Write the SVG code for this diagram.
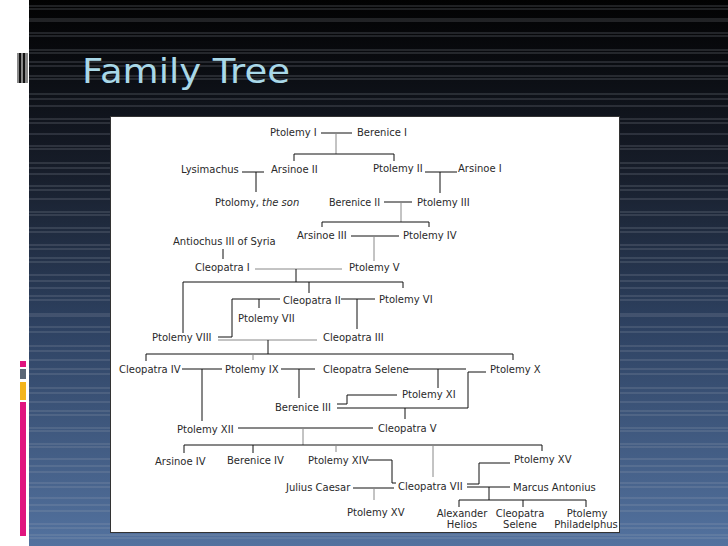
<svg xmlns="http://www.w3.org/2000/svg" width="728" height="546" viewBox="0 0 728 546">
<defs>
<linearGradient id="bg" x1="0" y1="0" x2="0" y2="1">
<stop offset="0" stop-color="#020202"/>
<stop offset="0.3" stop-color="#161c28"/>
<stop offset="0.6" stop-color="#2e4262"/>
<stop offset="1" stop-color="#53729f"/>
</linearGradient>
<style>
.bl{stroke:#aab0bb;stroke-opacity:0.45;stroke-width:0.8}
.k{fill:none;stroke:#111;stroke-width:1}
.g{fill:none;stroke:#888;stroke-width:1}
text.n{font-family:"DejaVu Sans","Liberation Sans",sans-serif;font-size:10px;fill:#2a2a2a}
.m{text-anchor:middle}
</style>
</defs>
<rect x="0" y="0" width="728" height="546" fill="#fff"/>
<rect x="29" y="0" width="699" height="546" fill="url(#bg)"/>
<g id="bglines">
<path class="bl" d="M29,6H728M29,9H728M29,19H728M29,21H728M29,33H728M29,36H728M29,50H728M29,53H728M29,62H728M29,66H728M29,76H728M29,79H728M29,94H728M29,99H728M29,106H728M29,119H728M29,123H728M29,134H728M29,146H728M29,149H728M29,163H728M29,168H728M29,174H728M29,186H728M29,190H728M29,199H728M29,212H728M29,215H728M29,228H728M29,232H728M29,245H728M29,249H728M29,258H728M29,262H728M29,275H728M29,281H728M29,288H728M29,296H728M29,300H728M29,314H728M29,316H728M29,327H728M29,332H728M29,346H728M29,351H728M29,360H728M29,369H728M29,374H728M29,388H728M29,393H728M29,402H728M29,411H728M29,415H728M29,428H728M29,431H728M29,444H728M29,447H728M29,459H728M29,466H728M29,472H728M29,483H728M29,487H728M29,498H728M29,505H728M29,511H728M29,524H728M29,528H728M29,535H728M29,538H728"/>
</g>
<g id="decor">
<rect x="17" y="53" width="11" height="30" fill="#888"/>
<rect x="19" y="53" width="2" height="30" fill="#111"/>
<rect x="23" y="53" width="2" height="30" fill="#111"/>
<rect x="20" y="361" width="6" height="6" fill="#e0157f"/>
<rect x="20" y="369" width="6" height="10" fill="#5a6676"/>
<rect x="20" y="382" width="6" height="18" fill="#f4b51c"/>
<rect x="20" y="402" width="6" height="134" fill="#e0157f"/>
</g>
<text id="title" x="82" y="83" font-family="'DejaVu Sans','Liberation Sans',sans-serif" font-size="33" fill="#a9d8e8" textLength="208" lengthAdjust="spacingAndGlyphs">Family Tree</text>
<rect id="box" x="110.5" y="116.5" width="509" height="416" fill="#fff" stroke="#333" stroke-width="1"/>
<g id="connectors">
<path class="k" d="M321,133H352"/>
<path class="g" d="M336,133V154"/>
<path class="k" d="M294,161V154H394V161"/>
<path class="k" d="M242,172H264M256,172V192"/>
<path class="k" d="M425,172H457M440,172V193"/>
<path class="k" d="M384,202H412"/>
<path class="g" d="M401,202V222"/>
<path class="k" d="M322,227V222H429V227"/>
<path class="k" d="M351,236H399"/>
<path class="g" d="M374,236V261"/>
<path class="k" d="M223,249V259"/>
<path class="g" d="M255,269H342"/>
<path class="k" d="M296,269V282"/>
<path class="k" d="M183,333V282H403V288"/>
<path class="k" d="M309,282V293"/>
<path class="k" d="M341,299H375"/>
<path class="k" d="M280,299H232V337H218"/>
<path class="g" d="M218,340H317"/>
<path class="k" d="M259,299V308"/>
<path class="k" d="M357,299V329"/>
<path class="k" d="M268,340V354"/>
<path class="k" d="M146,361V354H513V360"/>
<path class="g" d="M253,354V360"/>
<path class="k" d="M182,369H222M202,369V421"/>
<path class="k" d="M281,369H315M299,369V398"/>
<path class="k" d="M407,369H466M438,369V388"/>
<path class="k" d="M486,372H468V408H337"/>
<path class="k" d="M337,404H347V395H397"/>
<path class="k" d="M405,408V419"/>
<path class="k" d="M238,428H373"/>
<path class="g" d="M303,428V445"/>
<path class="k" d="M184,453V445H542V451"/>
<path class="k" d="M253,445V453"/>
<path class="g" d="M336,445V452M433,445V477"/>
<path class="k" d="M368,460H392V483H396"/>
<path class="k" d="M353,488H394"/>
<path class="g" d="M374,488V500"/>
<path class="k" d="M467,484H479V463H510M467,487H510M489,487V500"/>
<path class="k" d="M459,507V500H586V507M523,500V507"/>
</g>
<g id="n-ptolemy1"><text class="n" x="270" y="135.5">Ptolemy I</text></g>
<g id="n-berenice1"><text class="n" x="357" y="135.5">Berenice I</text></g>
<g id="n-lysimachus"><text class="n" x="181" y="172.5">Lysimachus</text></g>
<g id="n-arsinoe2"><text class="n" x="271" y="172.5">Arsinoe II</text></g>
<g id="n-ptolemy2"><text class="n" x="373" y="171.5">Ptolemy II</text></g>
<g id="n-arsinoe1"><text class="n" x="458" y="171.5">Arsinoe I</text></g>
<g id="n-ptolomyson"><text class="n" x="215" y="205.5">Ptolomy, <tspan font-style="italic">the son</tspan></text></g>
<g id="n-berenice2"><text class="n" x="329" y="205.5" textLength="51" lengthAdjust="spacingAndGlyphs">Berenice II</text></g>
<g id="n-ptolemy3"><text class="n" x="417" y="205.5">Ptolemy III</text></g>
<g id="n-arsinoe3"><text class="n" x="297" y="238.5">Arsinoe III</text></g>
<g id="n-ptolemy4"><text class="n" x="403" y="238.5">Ptolemy IV</text></g>
<g id="n-antiochus"><text class="n" x="173" y="244.5">Antiochus III of Syria</text></g>
<g id="n-cleopatra1"><text class="n" x="195" y="270.5">Cleopatra I</text></g>
<g id="n-ptolemy5"><text class="n" x="349" y="270.5">Ptolemy V</text></g>
<g id="n-cleopatra2"><text class="n" x="283" y="303.5">Cleopatra II</text></g>
<g id="n-ptolemy6"><text class="n" x="379" y="302.5">Ptolemy VI</text></g>
<g id="n-ptolemy7"><text class="n" x="238" y="321.5">Ptolemy VII</text></g>
<g id="n-ptolemy8"><text class="n" x="152" y="340.5">Ptolemy VIII</text></g>
<g id="n-cleopatra3"><text class="n" x="323" y="340.5">Cleopatra III</text></g>
<g id="n-cleopatra4"><text class="n" x="119" y="372.5">Cleopatra IV</text></g>
<g id="n-ptolemy9"><text class="n" x="225" y="372.5">Ptolemy IX</text></g>
<g id="n-cleoselene"><text class="n" x="323" y="372.5">Cleopatra Selene</text></g>
<g id="n-ptolemy10"><text class="n" x="490" y="372.5">Ptolemy X</text></g>
<g id="n-ptolemy11"><text class="n" x="402" y="397.5">Ptolemy XI</text></g>
<g id="n-berenice3"><text class="n" x="275" y="410.5">Berenice III</text></g>
<g id="n-ptolemy12"><text class="n" x="177" y="432.5">Ptolemy XII</text></g>
<g id="n-cleopatra5"><text class="n" x="378" y="431.5">Cleopatra V</text></g>
<g id="n-arsinoe4"><text class="n" x="155" y="464.5">Arsinoe IV</text></g>
<g id="n-berenice4"><text class="n" x="227" y="463.5">Berenice IV</text></g>
<g id="n-ptolemy14"><text class="n" x="308" y="463.5">Ptolemy XIV</text></g>
<g id="n-ptolemy15b"><text class="n" x="514" y="462.5">Ptolemy XV</text></g>
<g id="n-caesar"><text class="n" x="286" y="490.5">Julius Caesar</text></g>
<g id="n-cleopatra7"><text class="n" x="398" y="489.5">Cleopatra VII</text></g>
<g id="n-antonius"><text class="n" x="513" y="490.5">Marcus Antonius</text></g>
<g id="n-ptolemy15"><text class="n" x="347" y="515.5">Ptolemy XV</text></g>
<g id="n-alexander"><text class="n m" x="462" y="516.5">Alexander</text><text class="n m" x="462" y="527.5">Helios</text></g>
<g id="n-cleoselene2"><text class="n m" x="520" y="516.5">Cleopatra</text><text class="n m" x="520" y="527.5">Selene</text></g>
<g id="n-philadelphus"><text class="n m" x="587" y="516.5">Ptolemy</text><text class="n m" x="586" y="527.5">Philadelphus</text></g>
</svg>
